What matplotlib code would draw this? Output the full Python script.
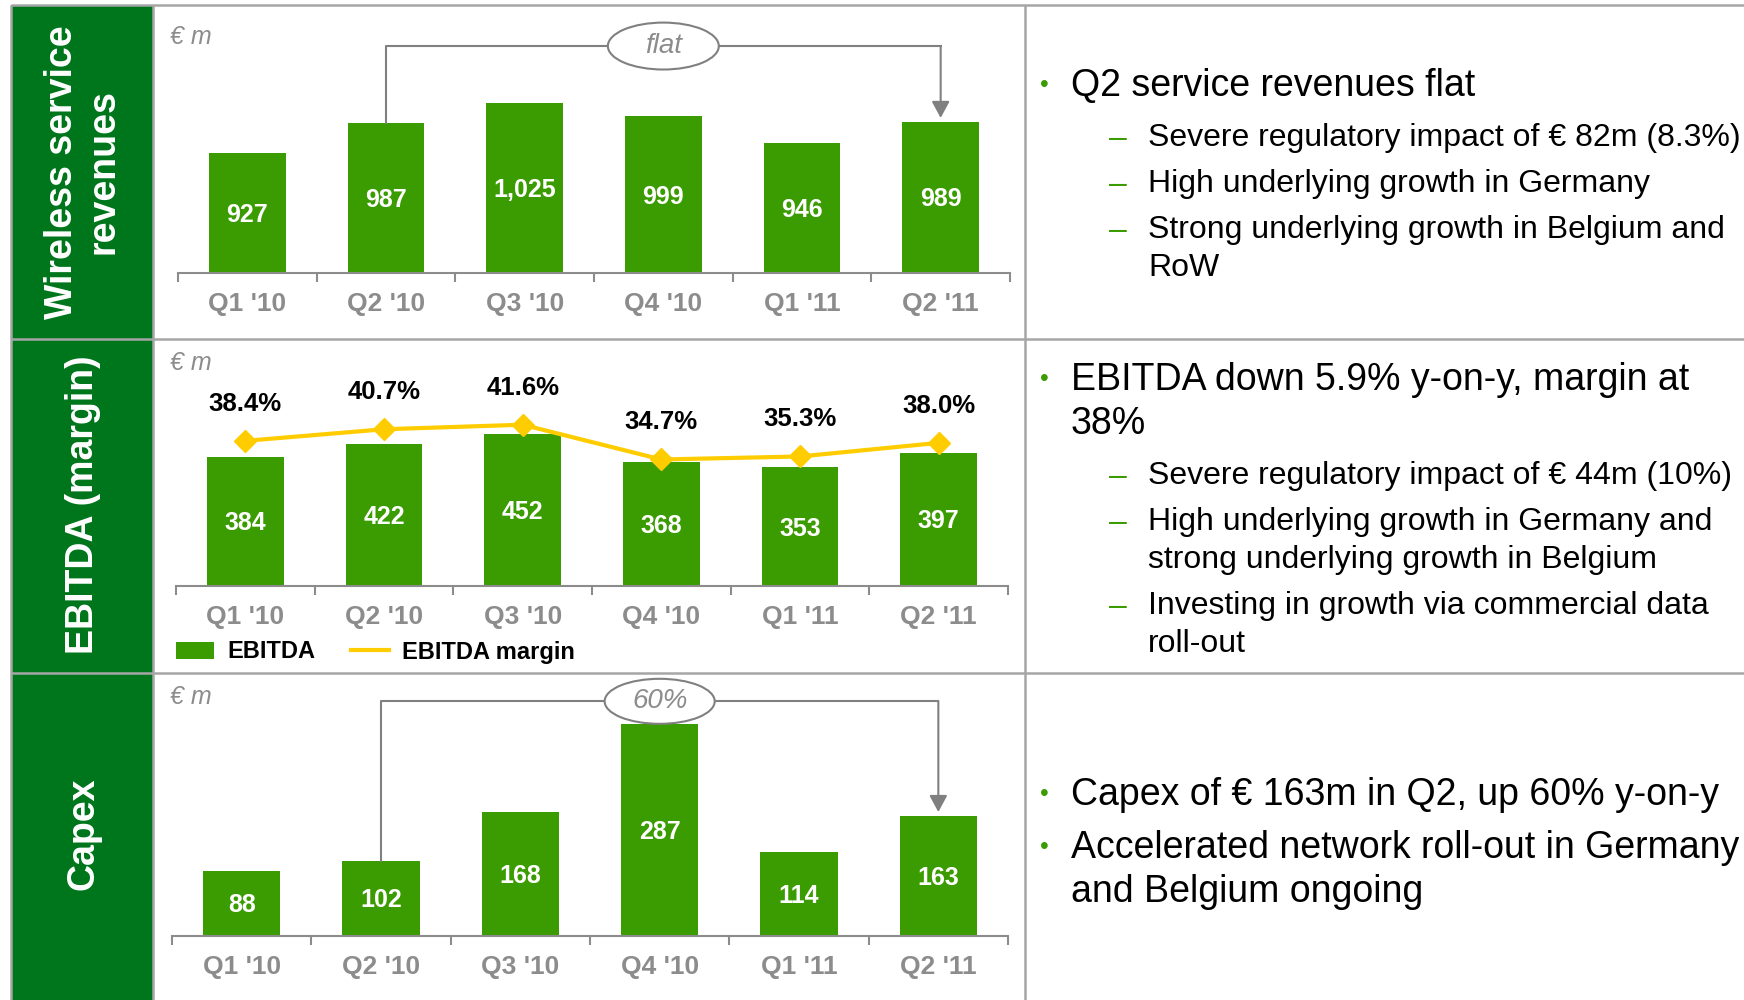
import numpy as np
import matplotlib
matplotlib.use('Agg')
import matplotlib.pyplot as plt
from matplotlib.patches import Rectangle, Ellipse
from matplotlib.lines import Line2D

plt.rcParams['font.family'] = ['Liberation Sans', 'DejaVu Sans']

#----------------------------------------------------------
quarters = ["Q1 '10", "Q2 '10", "Q3 '10", "Q4 '10", "Q1 '11", "Q2 '11"]
revenue = [927, 987, 1025, 999, 946, 989]
ebitda = [384, 422, 452, 368, 353, 397]
margin = [38.4, 40.7, 41.6, 34.7, 35.3, 38.0]
capex = [88, 102, 168, 287, 114, 163]

row_titles = ['Wireless service\nrevenues', 'EBITDA (margin)', 'Capex']
rev_note = 'flat'
capex_note = '60%'

txt_rev = [(0, ['Q2 service revenues flat']),
           (1, ['Severe regulatory impact of € 82m (8.3%)']),
           (1, ['High underlying growth in Germany']),
           (1, ['Strong underlying growth in Belgium and', 'RoW'])]
txt_ebitda = [(0, ['EBITDA down 5.9% y-on-y, margin at', '38%']),
              (1, ['Severe regulatory impact of € 44m (10%)']),
              (1, ['High underlying growth in Germany and', 'strong underlying growth in Belgium']),
              (1, ['Investing in growth via commercial data', 'roll-out'])]
txt_capex = [(0, ['Capex of € 163m in Q2, up 60% y-on-y']),
             (0, ['Accelerated network roll-out in Germany', 'and Belgium ongoing'])]

#----------------------------------------------------------
c_panel = '#00761C'
c_bar = '#3A9C00'
c_yel = '#FFCC00'
c_frame = '#A6A6A6'
c_gray = '#8C8C8C'
c_brk = '#808080'

W, H = 1744, 1000
fig = plt.figure(figsize=(W/100, H/100), dpi=100)


def px_ax(x0, y0, x1, y1):
	ax = fig.add_axes([x0/W, 1-y1/H, (x1-x0)/W, (y1-y0)/H])
	ax.set_facecolor('none')
	return ax


#background frame
bg = fig.add_axes([0, 0, 1, 1], zorder=0)
bg.set_xlim(0, W)
bg.set_ylim(H, 0)
bg.axis('off')
bg.add_patch(Rectangle((11, 5), 142, H-5, color=c_panel, lw=0))
for x in [11, 153, 1025]:
	bg.plot([x, x], [5, H], color=c_frame, lw=1.8, solid_capstyle='butt')
for y in [5, 338.5, 672.5]:
	bg.plot([11, W], [y, y], color=c_frame, lw=1.8, solid_capstyle='butt')

for title, yc in zip(row_titles, [172, 505, 834]):
	bg.text(83, yc, title, rotation=90, ha='center', va='center', color='white',
	        fontsize=27, fontweight='bold', linespacing=1.2, multialignment='center')

for y in [37, 363, 697]:
	bg.text(170, y, '€ m', ha='left', va='center', color=c_gray, fontsize=18, style='italic')


#-----------------------------------------------------
def style_ax(ax):
	n = len(quarters)
	ax.set_xlim(-0.5, n-0.5)
	for s in ['top', 'right', 'left']:
		ax.spines[s].set_visible(False)
	ax.spines['bottom'].set_color(c_gray)
	ax.spines['bottom'].set_linewidth(1.5)
	ax.set_yticks([])
	ax.set_xticks(np.arange(n+1)-0.5)
	ax.set_xticklabels([])
	ax.tick_params(axis='x', which='major', length=6.5, width=1.5, color=c_gray, direction='out')
	ax.set_xticks(np.arange(n), minor=True)
	ax.set_xticklabels(quarters, minor=True)
	ax.tick_params(axis='x', which='minor', length=0, pad=14, labelsize=19, labelcolor=c_gray)
	for t in ax.get_xticklabels(minor=True):
		t.set_fontweight('bold')


def bar_labels(ax, vals, lo):
	for i, v in enumerate(vals):
		ax.annotate(f'{v:,}', (i, (lo+v)/2), xytext=(0, -6.4), textcoords='offset points',
		            ha='center', va='baseline', color='white', fontsize=18, fontweight='bold')


def bracket(ax, i0, i1, v0, v1, ytop, note, ew, eh):
	ax.plot([i0, i0, i1], [v0, ytop, ytop], color=c_brk, lw=1.5, clip_on=False, zorder=3)
	ax.annotate('', xy=(i1, v1), xytext=(i1, ytop),
	            arrowprops=dict(arrowstyle='-|>,head_length=0.5,head_width=0.27', mutation_scale=20,
	                            color=c_brk, lw=1.5, shrinkA=0, shrinkB=0), zorder=3)
	xm = (i0+i1)/2
	ax.add_patch(Ellipse((xm, ytop), ew, eh, facecolor='white', edgecolor=c_brk, lw=1.5,
	                     clip_on=False, zorder=4))
	ax.text(xm, ytop, note, ha='center', va='center', color=c_gray, fontsize=20,
	        style='italic', zorder=5)


x = np.arange(len(quarters))
bw = 0.555

#revenue
ax1 = px_ax(178, 13, 1010, 273)
lo1 = 692
ax1.set_ylim(lo1, lo1+260/0.51)
ax1.bar(x, revenue, width=bw, color=c_bar, zorder=2)
style_ax(ax1)
bar_labels(ax1, revenue, lo1)
bracket(ax1, 1, 5, revenue[1], revenue[5]+7, 1137, rev_note, 0.8, 92)

#ebitda
ax2 = px_ax(176, 345, 1008, 586)
ax2.set_ylim(0, 241/0.336)
bars = ax2.bar(x, ebitda, width=bw, color=c_bar, zorder=2)
style_ax(ax2)
bar_labels(ax2, ebitda, 0)
ax2b = ax2.twinx()
ax2b.set_ylim(9.6, 9.6+241/5.04)
ax2b.axis('off')
ax2b.plot(x, margin, color=c_yel, lw=3, marker='D', ms=11, mec=c_yel, zorder=3)
for i, m in enumerate(margin):
	ax2b.annotate(f'{m:.1f}%', (i, m), xytext=(0, 21.6), textcoords='offset points',
	              ha='center', va='baseline', color='black', fontsize=18.5, fontweight='bold')
h_line = Line2D([], [], color=c_yel, lw=3)
ax2b.legend([bars, h_line], ['EBITDA', 'EBITDA margin'], loc='center left',
            bbox_to_anchor=(176/W, 1-652/H), bbox_transform=fig.transFigure, ncol=2,
            frameon=False, borderpad=0, borderaxespad=0, handlelength=1.6, handleheight=0.7,
            handletextpad=0.58, columnspacing=1.5, prop={'size': 17, 'weight': 'bold'})

#capex
ax3 = px_ax(172, 680, 1008, 936)
ax3.set_ylim(0, 256/0.738)
ax3.bar(x, capex, width=bw, color=c_bar, zorder=2)
style_ax(ax3)
bar_labels(ax3, capex, 0)
bracket(ax3, 1, 5, capex[1], capex[5]+5, 318, capex_note, 0.79, 61)


#-----------------------------------------------------
def bullet_text(items, y):
	first = True
	prev = 0
	for lvl, lines in items:
		if not first:
			y += 53 if lvl == 0 else (52 if prev == 0 else 46)
		first = False
		if lvl == 0:
			bg.text(1040, y+2, '•', ha='left', va='center', color=c_bar, fontsize=18)
			fs, xt, step = 27, 1071, 44
		else:
			bg.text(1109, y+11.5, '–', ha='left', va='baseline', color=c_bar, fontsize=23)
			fs, xt, step = 23, 1148, 38
		cap = fs/0.72*0.716
		for j, s in enumerate(lines):
			if j > 0:
				y += step
			bg.text(xt, y+cap/2, s, ha='left', va='baseline', color='black', fontsize=fs)
		prev = lvl


bullet_text(txt_rev, 83)
bullet_text(txt_ebitda, 377)
bullet_text(txt_capex, 792)

fig.savefig('out.png', dpi=100)
plt.close()
